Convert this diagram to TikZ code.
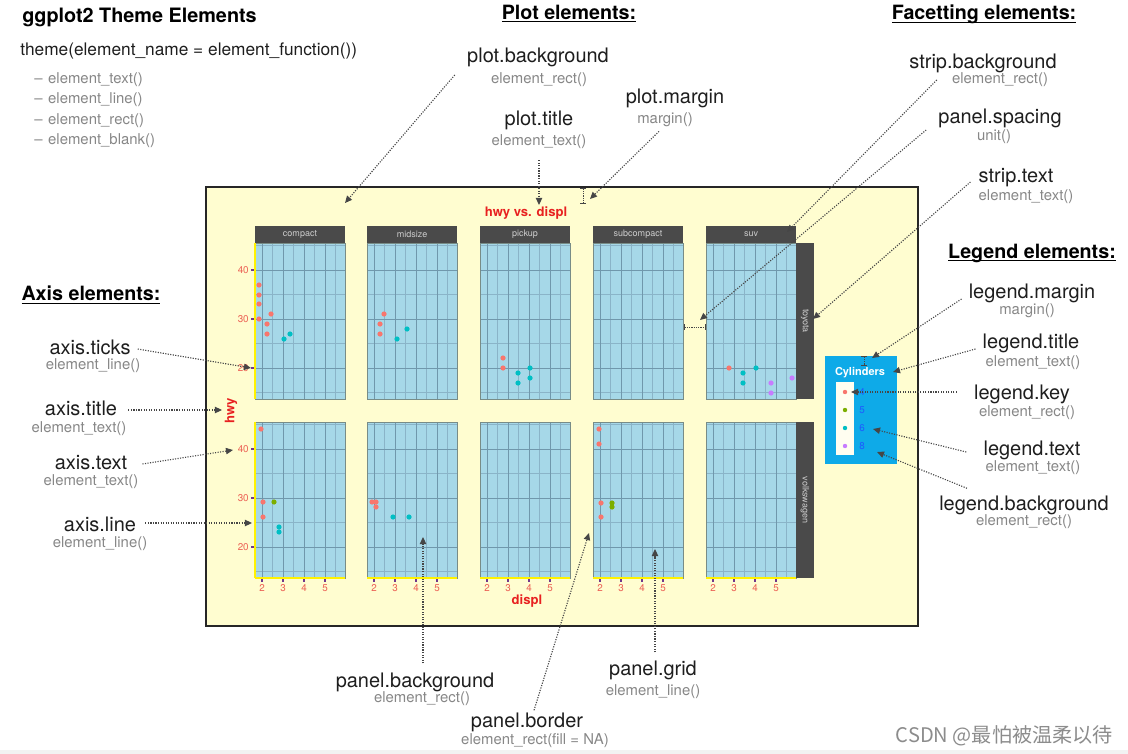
\documentclass[tikz,border=0pt]{standalone}
\usepackage{fontspec}
\setmainfont{TeX Gyre Heros}
\newfontfamily\cjkfont{Noto Sans CJK SC}
\usepackage{xcolor}
\usetikzlibrary{arrows.meta}

\definecolor{plotbg}{RGB}{255,253,208}
\definecolor{panelbg}{RGB}{166,216,232}
\definecolor{gridmaj}{RGB}{112,152,172}
\definecolor{gridmin}{RGB}{138,180,200}
\definecolor{panelline}{RGB}{120,140,135}
\definecolor{stripbg}{RGB}{74,74,74}
\definecolor{striptxt}{RGB}{205,205,205}
\definecolor{legbg}{RGB}{14,170,232}
\definecolor{axred}{RGB}{236,96,84}
\definecolor{titlered}{RGB}{232,32,32}
\definecolor{tickpurple}{RGB}{112,56,140}
\definecolor{cylfour}{RGB}{248,118,109}
\definecolor{cylfive}{RGB}{124,174,0}
\definecolor{cylsix}{RGB}{0,191,196}
\definecolor{cyleight}{RGB}{199,124,255}
\definecolor{legblue}{RGB}{30,90,255}
\definecolor{labdark}{RGB}{30,30,30}
\definecolor{subgray}{RGB}{135,135,135}
\definecolor{ptrgray}{RGB}{70,70,70}
\definecolor{wmgray}{RGB}{140,140,140}

\newcommand{\headline}[1]{\underline{\raisebox{0pt}[\height][0pt]{#1}}}

\tikzset{
  heading/.style={font=\bfseries\fontsize{14}{16}\selectfont, text=black, inner sep=0pt},
  elname/.style={font=\fontsize{14.2}{16}\selectfont, text=labdark, inner sep=0pt},
  elfun/.style={font=\fontsize{10.6}{12}\selectfont, text=subgray, inner sep=0pt},
  pointer/.style={draw=ptrgray, line width=0.8pt, dash pattern=on 0.8pt off 1pt,
    -{Triangle[length=5pt,width=4.5pt]}},
  gapmark/.style={draw=ptrgray, line width=0.6pt, dash pattern=on 0.8pt off 0.8pt,
    {Bar[width=4pt]}-{Bar[width=4pt]}},
  plotframe/.style={fill=plotbg, draw=black!85, line width=1.6pt},
  gridmajor/.style={draw=gridmaj, line width=0.55pt},
  gridminor/.style={draw=gridmin, line width=0.35pt},
  panelframe/.style={draw=panelline, line width=0.6pt},
  striptext/.style={font=\fontsize{6.4}{7}\selectfont, text=striptxt, inner sep=0pt},
  ticklab/.style={font=\fontsize{7}{8}\selectfont, text=axred, inner sep=0pt},
  tickmark/.style={draw=tickpurple, line width=0.9pt},
  axisline/.style={draw=yellow, line width=1.4pt},
  axtitle/.style={font=\bfseries\fontsize{9.3}{10}\selectfont, text=titlered, inner sep=0pt},
  legtext/.style={font=\fontsize{7}{8}\selectfont, text=legblue, inner sep=0pt}
}

\begin{document}
\begin{tikzpicture}[x=0.025cm, y=-0.025cm]
\fill[white] (0,0) rectangle (1128,754);
\useasboundingbox (0,0) rectangle (1128,754);
\fill[black!5] (0,750) rectangle (1128,754);

\node[font=\bfseries\fontsize{14.1}{16}\selectfont, anchor=west, inner sep=0pt] (maintitle) at (22,17) {ggplot2 Theme Elements};
\node[font=\fontsize{12.3}{14}\selectfont, text=labdark, anchor=west, inner sep=0pt] (themecall) at (20,51) {theme(element\_name = element\_function())};
\node[elfun, anchor=west] (fntext) at (34,80) {\textendash\hspace{4pt}element\_text()};
\node[elfun, anchor=west] (fnline) at (34,100) {\textendash\hspace{4pt}element\_line()};
\node[elfun, anchor=west] (fnrect) at (34,121) {\textendash\hspace{4pt}element\_rect()};
\node[elfun, anchor=west] (fnblank) at (34,141) {\textendash\hspace{4pt}element\_blank()};

\node[heading] (plothead) at (569,14) {\headline{Plot elements:}};
\node[heading] (facethead) at (984,14) {\headline{Facetting elements:}};
\node[heading] (leghead) at (1032,253) {\headline{Legend elements:}};
\node[heading] (axishead) at (91,295) {\headline{Axis elements:}};

% the plot
\draw[plotframe] (206,187) rectangle (918,626);
\node[axtitle] (plottitle) at (526,213) {hwy vs. displ};

\foreach \L in {255,367,480,593,706}
  \foreach \T in {243,422} {
    \fill[panelbg] (\L,\T) rectangle ++(90,156);
    \foreach \d in {17.5,38.5,59.5,80.5} \draw[gridminor] ({\L+\d},\T) -- ++(0,156);
    \foreach \d in {2.5,51.5,100.5,149.5} \draw[gridminor] (\L,{\T+\d}) -- ++(90,0);
    \foreach \d in {7,28,49,70} \draw[gridmajor] ({\L+\d},\T) -- ++(0,156);
    \foreach \d in {27,76,125} \draw[gridmajor] (\L,{\T+\d}) -- ++(90,0);
    \draw[panelframe] (\L,\T) rectangle ++(90,156);
  }

\foreach \L/\fac in {255/compact,367/midsize,480/pickup,593/subcompact,706/suv} {
  \fill[stripbg] (\L,226) rectangle ++(90,17);
  \node[striptext] (strip\fac) at ({\L+45},234.5) {\fac};
}
\fill[stripbg] (796,243) rectangle (814,399);
\node[striptext, rotate=-90] (striptoyota) at (805,321) {toyota};
\fill[stripbg] (796,422) rectangle (814,578);
\node[striptext, rotate=-90] (stripvw) at (805,500) {volkswagen};

% axes
\draw[axisline] (255,243) -- (255,399);
\draw[axisline] (255,422) -- (255,578);
\foreach \L in {255,367,480,593,706} {
  \draw[axisline] (\L,578) -- ++(90,0);
  \foreach \d/\lab in {7/2,28/3,49/4,70/5} {
    \draw[tickmark] ({\L+\d},579) -- ++(0,3);
    \node[ticklab] (xlab\L\lab) at ({\L+\d},588) {\lab};
  }
}
\foreach \T in {243,422}
  \foreach \d/\lab in {27/40,76/30,125/20} {
    \draw[tickmark] (251,{\T+\d}) -- (254,{\T+\d});
    \node[ticklab, anchor=east] (ylab\T\lab) at (249,{\T+\d}) {\lab};
  }
\node[axtitle] (xtitle) at (527,601) {displ};
\node[axtitle, rotate=90] (ytitle) at (231,411) {hwy};

% points
\foreach \x/\y in {259/285,259/295,259/304,259/319,271/314,267/324,267/334,
  384/314,380/324,380/334,503/358,503/368,729/368,
  261/429,263/502,263/517,372/502,376/502,376/507,599/429,599/444,601/503,601/517}
  \fill[cylfour] (\x,\y) circle[radius=2.6];
\foreach \x/\y in {274/502,612/503,612/507}
  \fill[cylfive] (\x,\y) circle[radius=2.6];
\foreach \x/\y in {284/339,290/334,397/339,407/329,518/373,518/383,530/368,530/378,
  743/373,743/383,756/368,279/527,279/532,393/517,409/517}
  \fill[cylsix] (\x,\y) circle[radius=2.6];
\foreach \x/\y in {771/383,771/393,792/378}
  \fill[cyleight] (\x,\y) circle[radius=2.6];

% legend
\fill[legbg] (825,356) rectangle (897,464);
\fill[white!94!yellow] (836,382) rectangle (854,455);
\node[font=\bfseries\fontsize{7.8}{9}\selectfont, text=white, inner sep=0pt] (legtitle) at (860,373) {Cylinders};
\foreach \y/\c/\lab in {392/cylfour/4,410/cylfive/5,428/cylsix/6,446/cyleight/8} {
  \fill[\c] (845,\y) circle[radius=2.2];
  \node[legtext] (leg\lab) at (862,\y) {\lab};
}

% gaps
\draw[gapmark] (583,188) -- (583,204);
\draw[gapmark] (684,327) -- (706,327);
\draw[gapmark] (864,356) -- (864,366);

% labels
\node[elname] (pbg) at (538,57) {plot.background};
\node[elfun] (pbgfun) at (539,80) {element\_rect()};
\node[elname] (ptitle) at (539,120) {plot.title};
\node[elfun] (ptitlefun) at (539,142) {element\_text()};
\node[elname] (pmargin) at (675,98) {plot.margin};
\node[elfun] (pmarginfun) at (665,120) {margin()};

\node[elname] (sbg) at (983,63) {strip.background};
\node[elfun] (sbgfun) at (1000,80) {element\_rect()};
\node[elname] (pspace) at (1000,118) {panel.spacing};
\node[elfun] (pspacefun) at (994,137) {unit()};
\node[elname] (stext) at (1016,178) {strip.text};
\node[elfun] (stextfun) at (1026,197) {element\_text()};

\node[elname] (lmargin) at (1032,293) {legend.margin};
\node[elfun] (lmarginfun) at (1027,311) {margin()};
\node[elname] (ltitle) at (1031,343) {legend.title};
\node[elfun] (ltitlefun) at (1033,363) {element\_text()};
\node[elname] (lkey) at (1022,394) {legend.key};
\node[elfun] (lkeyfun) at (1027,413) {element\_rect()};
\node[elname] (ltext) at (1032,450) {legend.text};
\node[elfun] (ltextfun) at (1033,468) {element\_text()};
\node[elname] (lbg) at (1024,505) {legend.background};
\node[elfun] (lbgfun) at (1024,522) {element\_rect()};

\node[elname] (aticks) at (90,347) {axis.ticks};
\node[elfun] (aticksfun) at (93,366) {element\_line()};
\node[elname] (atitle) at (81,408) {axis.title};
\node[elfun] (atitlefun) at (79,429) {element\_text()};
\node[elname] (atext) at (91,463) {axis.text};
\node[elfun] (atextfun) at (91,482) {element\_text()};
\node[elname] (aline) at (100,524) {axis.line};
\node[elfun] (alinefun) at (100,544) {element\_line()};

\node[elname] (pback) at (415,682) {panel.background};
\node[elfun] (pbackfun) at (422,699) {element\_rect()};
\node[elname] (pborder) at (527,722) {panel.border};
\node[elfun] (pborderfun) at (535,741) {element\_rect(fill = NA)};
\node[elname] (pgrid) at (653,670) {panel.grid};
\node[elfun] (pgridfun) at (653,692) {element\_line()};

\node[font=\cjkfont\fontsize{14.3}{16}\selectfont, text=wmgray, anchor=east, inner sep=0pt] (wmark) at (1113,736) {CSDN @最怕被温柔以待};

% pointers
\coordinate (pbgtip) at (345,203);
\coordinate (ptitletip) at (539,205);
\coordinate (pmargintip) at (590,199);
\coordinate (sbgtip) at (787,232);
\coordinate (pspacetip) at (700,320);
\coordinate (stexttip) at (813,319);
\coordinate (lmargintip) at (872,358);
\coordinate (ltitletip) at (893,372);
\coordinate (lkeytip) at (851,392);
\coordinate (ltexttip) at (873,429);
\coordinate (lbgtip) at (877,452);
\coordinate (atickstip) at (251,368);
\coordinate (atitletip) at (222,410);
\coordinate (atexttip) at (233,450);
\coordinate (alinetip) at (252,523);
\coordinate (pbacktip) at (423,537);
\coordinate (pbordertip) at (589,533);
\coordinate (pgridtip) at (655,549);

\draw[pointer] ([shift={(-36,-5)}]pbgfun.west) -- (pbgtip);
\draw[pointer] ([shift={(0,11)}]ptitlefun.south) -- (ptitletip);
\draw[pointer] ([shift={(-6,4)}]pmarginfun.south) -- (pmargintip);
\draw[pointer] ([shift={(-15,0)}]sbgfun.west) -- (sbgtip);
\draw[pointer] ([shift={(-12,12)}]pspace.west) -- (pspacetip);
\draw[pointer] ([shift={(-8,4)}]stext.west) -- (stexttip);
\draw[pointer] ([shift={(-7,6)}]lmargin.west) -- (lmargintip);
\draw[pointer] ([shift={(-7,6)}]ltitle.west) -- (ltitletip);
\draw[pointer] ([shift={(-17,-2)}]lkey.west) -- (lkeytip);
\draw[pointer] ([shift={(-17,2)}]ltext.west) -- (ltexttip);
\draw[pointer] ([shift={(28,-7)}]lbg.north west) -- (lbgtip);
\draw[pointer] ([shift={(7,2)}]aticks.east) -- (atickstip);
\draw[pointer] ([shift={(11,2)}]atitle.east) -- (atitletip);
\draw[pointer] ([shift={(15,1)}]atext.east) -- (atexttip);
\draw[pointer] ([shift={(9,-1)}]aline.east) -- (alinetip);
\draw[pointer] ([shift={(8,-9)}]pback.north) -- (pbacktip);
\draw[pointer] ([shift={(7,-2)}]pborder.north) -- (pbordertip);
\draw[pointer] ([shift={(2,-8)}]pgrid.north) -- (pgridtip);
\end{tikzpicture}
\end{document}
